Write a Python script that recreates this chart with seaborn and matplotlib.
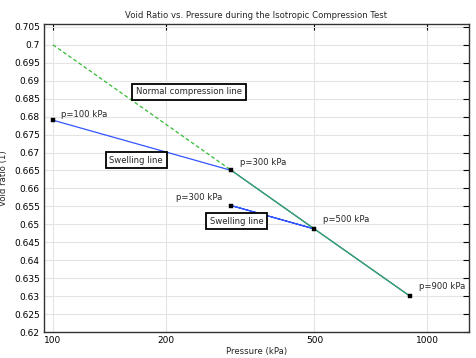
import numpy as np
import pandas as pd
import matplotlib
matplotlib.use("Agg")
import matplotlib.pyplot as plt
from matplotlib.ticker import FixedLocator, FixedFormatter, NullLocator
import seaborn as sns

# Data
path_p = [100, 300, 500, 300, 500, 900]
path_e = [0.679, 0.665, 0.6487, 0.6552, 0.6487, 0.630]
ncl_dash_p = [100, 300]
ncl_dash_e = [0.700, 0.665]
ncl_p = [300, 500, 900]
ncl_e = [0.665, 0.6487, 0.630]
pt_p = [100, 300, 300, 500, 900]
pt_e = [0.679, 0.665, 0.6552, 0.6487, 0.630]
pt_labels = ["p=100 kPa", "p=300 kPa", "p=300 kPa", "p=500 kPa", "p=900 kPa"]
x_ticks = [100, 200, 500, 1000]
y_ticks = [0.62, 0.625, 0.63, 0.635, 0.64, 0.645, 0.65, 0.655, 0.66, 0.665,
           0.67, 0.675, 0.68, 0.685, 0.69, 0.695, 0.7, 0.705]
y_tick_labels = ["0.62", "0.625", "0.63", "0.635", "0.64", "0.645", "0.65", "0.655",
                 "0.66", "0.665", "0.67", "0.675", "0.68", "0.685", "0.69", "0.695",
                 "0.7", "0.705"]

sns.set_theme(style="white")
plt.rcParams['font.family'] = ['DejaVu Sans']

FS = 6.1
fig = plt.figure(figsize=(4.76, 3.58), dpi=100)
ax = fig.add_axes([44/476, 1 - 332/358, (469-44)/476, (332-24)/358])

path_df = pd.DataFrame({"p": path_p, "e": path_e})
sns.lineplot(data=path_df, x="p", y="e", sort=False, estimator=None, ax=ax,
             color="#3355ff", linewidth=0.9)
sns.lineplot(x=ncl_dash_p, y=ncl_dash_e, ax=ax, color="#33bb33", linewidth=0.9,
             linestyle=(0, (3, 2)), estimator=None)
sns.lineplot(x=ncl_p, y=ncl_e, ax=ax, color="#33aa55", linewidth=0.9, estimator=None)
sns.scatterplot(x=pt_p, y=pt_e, ax=ax, marker="s", s=5, color="black",
                edgecolor="black", linewidth=0.3, zorder=5)

ax.set_xscale("log")
ax.set_xlim(94.6, 1295)
ax.set_ylim(0.62, 0.7058)
ax.xaxis.set_major_locator(FixedLocator(x_ticks))
ax.xaxis.set_major_formatter(FixedFormatter([str(v) for v in x_ticks]))
ax.xaxis.set_minor_locator(NullLocator())
ax.yaxis.set_major_locator(FixedLocator(y_ticks))
ax.yaxis.set_major_formatter(FixedFormatter(y_tick_labels))

ax.grid(True, color="#e4e4e4", linewidth=0.8)
ax.tick_params(axis="both", which="major", direction="in", length=4, width=0.8,
               labelsize=FS + 0.4, colors="black", top=True, right=True, pad=3)
for s in ax.spines.values():
    s.set_color("#333333")
    s.set_linewidth(1.0)
    s.set_visible(True)

ax.set_title("Void Ratio vs. Pressure during the Isotropic Compression Test",
             fontsize=FS, pad=4)
ax.set_xlabel("Pressure (kPa)", fontsize=FS, labelpad=1)
ax.set_ylabel("Void ratio (1)", fontsize=FS)
ax.yaxis.set_label_coords(-0.085, 0.5)

# point labels (offsets in points)
offsets = [(5.5, 1.2), (6.0, 2.5), (-6.5, 2.5), (6.5, 3.5), (6.5, 3.5)]
has = ["left", "left", "right", "left", "left"]
for p, e, lab, off, ha in zip(pt_p, pt_e, pt_labels, offsets, has):
    ax.annotate(lab, (p, e), xytext=off, textcoords="offset points",
                fontsize=FS, ha=ha, va="bottom")

box = dict(boxstyle="square,pad=0.45", facecolor="white", edgecolor="black", linewidth=1.3)
ax.text(231, 0.6869, "Normal compression line", fontsize=FS, ha="center", va="center", bbox=box)
ax.text(167, 0.6679, "Swelling line", fontsize=FS, ha="center", va="center", bbox=box)
ax.text(310, 0.6509, "Swelling line", fontsize=FS, ha="center", va="center", bbox=box)

fig.savefig("out.png", dpi=100)
